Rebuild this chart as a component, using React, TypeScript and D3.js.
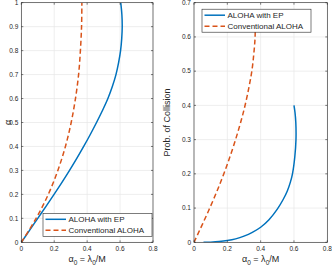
import * as d3 from 'd3';

// Left panel: alpha vs alpha_0 (ALOHA with EP)
const epAlpha = [0, 0.05, 0.1, 0.15, 0.2, 0.25, 0.3, 0.35, 0.4, 0.45, 0.5, 0.55, 0.6, 0.65, 0.7, 0.75, 0.8, 0.85, 0.9, 0.95, 1.0];
const epLoad = [0, 0.05, 0.1, 0.15, 0.199, 0.247, 0.293, 0.337, 0.379, 0.419, 0.457, 0.493, 0.526, 0.553, 0.575, 0.591, 0.603, 0.61, 0.613, 0.611, 0.604];

// Conventional ALOHA
const convAlpha = [0, 0.1, 0.2, 0.3, 0.4, 0.5, 0.6, 0.7, 0.8, 0.9, 1.0];
const convLoad = [0, 0.09, 0.164, 0.222, 0.268, 0.303, 0.329, 0.348, 0.359, 0.366, 0.368];
const convCollision = [0, 0.095, 0.181, 0.259, 0.33, 0.393, 0.451, 0.503, 0.551, 0.593, 0.632];

// Right panel: collision probability (ALOHA with EP)
const epLoadR = [0.057, 0.1, 0.15, 0.2, 0.25, 0.3, 0.35, 0.4, 0.45, 0.5, 0.535, 0.56, 0.578, 0.591, 0.605, 0.612, 0.611, 0.606, 0.6];
const epCollision = [0, 0.0005, 0.002, 0.005, 0.01, 0.018, 0.029, 0.044, 0.066, 0.097, 0.125, 0.15, 0.175, 0.2, 0.25, 0.3, 0.35, 0.38, 0.4];

const xTicks = [0, 0.2, 0.4, 0.6, 0.8];
const yTicksLeft = [0, 0.1, 0.2, 0.3, 0.4, 0.5, 0.6, 0.7, 0.8, 0.9, 1];
const yTicksRight = [0, 0.1, 0.2, 0.3, 0.4, 0.5, 0.6, 0.7];

const legendLabels = ['ALOHA with EP', 'Conventional ALOHA'];

const BLUE = '#0072BD';
const ORANGE = '#D95319';
const AXIS = '#262626';
const GRID = '#e6e6e6';
const FONT = 'Liberation Sans, Arial, Helvetica, sans-serif';

type Pt = [number, number];

function XLabel({ x, y }: { x: number; y: number }) {
  return (
    <text x={x} y={y} textAnchor="middle" fontSize={9} fill={AXIS} fontFamily={FONT}>
      α<tspan fontSize={6.5} dy={2.5}>0</tspan>
      <tspan dy={-2.5}> = λ</tspan>
      <tspan fontSize={6.5} dy={2.5}>0</tspan>
      <tspan dy={-2.5}>/M</tspan>
    </text>
  );
}

function Panel({
  left, right, top, bottom, yMax, yTicks, series, yLabel, yLabelX, legendPos,
}: {
  left: number; right: number; top: number; bottom: number;
  yMax: number; yTicks: number[];
  series: { pts: Pt[]; color: string; dash?: string }[];
  yLabel: string; yLabelX: number;
  legendPos: 'se' | 'nw';
}) {
  const x = d3.scaleLinear().domain([0, 0.8]).range([left, right]);
  const y = d3.scaleLinear().domain([0, yMax]).range([bottom, top]);
  const line = d3.line<Pt>().x(d => x(d[0])).y(d => y(d[1])).curve(d3.curveCatmullRom);

  const lw = 109;
  const lh = 23;
  const lx = legendPos === 'se' ? right - lw - 1 : left + 8;
  const ly = legendPos === 'se' ? bottom - lh - 6 : top + 6.5;

  return (
    <g>
      <defs>
        <clipPath id={`clip-${left}`}>
          <rect x={left} y={top} width={right - left} height={bottom - top} />
        </clipPath>
      </defs>
      <rect x={left} y={top} width={right - left} height={bottom - top} fill="#fff" />
      {xTicks.map(t => (
        <line key={`gx${t}`} x1={x(t)} x2={x(t)} y1={top} y2={bottom} stroke={GRID} strokeWidth={0.7} />
      ))}
      {yTicks.map(t => (
        <line key={`gy${t}`} x1={left} x2={right} y1={y(t)} y2={y(t)} stroke={GRID} strokeWidth={0.7} />
      ))}
      <g clipPath={`url(#clip-${left})`}>
        {series.map((s, i) => (
          <path key={i} d={line(s.pts) || ''} fill="none" stroke={s.color} strokeWidth={1.5}
            strokeDasharray={s.dash} />
        ))}
      </g>
      <rect x={left} y={top} width={right - left} height={bottom - top} fill="none" stroke={AXIS} strokeWidth={0.6} />
      {xTicks.map(t => (
        <g key={`tx${t}`}>
          <line x1={x(t)} x2={x(t)} y1={bottom} y2={bottom - 2} stroke={AXIS} strokeWidth={0.6} />
          <line x1={x(t)} x2={x(t)} y1={top} y2={top + 2} stroke={AXIS} strokeWidth={0.6} />
          <text x={x(t)} y={bottom + 8.5} textAnchor="middle" fontSize={6.5} fill={AXIS} fontFamily={FONT}>
            {t === 0 ? '0' : t.toString()}
          </text>
        </g>
      ))}
      {yTicks.map(t => (
        <g key={`ty${t}`}>
          <line x1={left} x2={left + 2} y1={y(t)} y2={y(t)} stroke={AXIS} strokeWidth={0.6} />
          <line x1={right} x2={right - 2} y1={y(t)} y2={y(t)} stroke={AXIS} strokeWidth={0.6} />
          <text x={left - 3} y={y(t) + 2.3} textAnchor="end" fontSize={6.5} fill={AXIS} fontFamily={FONT}>
            {t === 0 ? '0' : t === 1 ? '1' : t.toFixed(1)}
          </text>
        </g>
      ))}
      <XLabel x={(left + right) / 2} y={bottom + 20} />
      <text transform={`translate(${yLabelX},${(top + bottom) / 2}) rotate(-90)`} textAnchor="middle"
        fontSize={9} fill={AXIS} fontFamily={FONT}>
        {yLabel}
      </text>
      <g transform={`translate(${lx},${ly})`}>
        <rect width={lw} height={lh} fill="#fff" stroke={AXIS} strokeWidth={0.6} />
        {legendLabels.map((lab, i) => (
          <g key={lab} transform={`translate(0,${6 + i * 11})`}>
            <line x1={2.5} x2={23} y1={0} y2={0} stroke={series[i].color} strokeWidth={1.5}
              strokeDasharray={series[i].dash} />
            <text x={25.5} y={3} fontSize={8} fill={AXIS} fontFamily={FONT}>{lab}</text>
          </g>
        ))}
      </g>
    </g>
  );
}

export default function App() {
  const leftEp: Pt[] = epAlpha.map((a, i) => [epLoad[i], a]);
  const leftConv: Pt[] = convAlpha.map((a, i) => [convLoad[i], a]);
  const rightEp: Pt[] = epLoadR.map((l, i) => [l, epCollision[i]]);
  const rightConv: Pt[] = convLoad.map((l, i) => [l, convCollision[i]]);

  return (
    <>
      <style>{'body{margin:0}'}</style>
      <svg width={332} height={271} style={{ display: 'block', background: '#fff' }}>
        <Panel left={21.3} right={153} top={2.7} bottom={242.3} yMax={1} yTicks={yTicksLeft}
          series={[{ pts: leftEp, color: BLUE }, { pts: leftConv, color: ORANGE, dash: '5,3' }]}
          yLabel="α" yLabelX={11} legendPos="se" />
        <Panel left={194} right={327.3} top={2.7} bottom={242.3} yMax={0.7} yTicks={yTicksRight}
          series={[{ pts: rightEp, color: BLUE }, { pts: rightConv, color: ORANGE, dash: '5,3' }]}
          yLabel="Prob. of Collision" yLabelX={170} legendPos="nw" />
      </svg>
    </>
  );
}
